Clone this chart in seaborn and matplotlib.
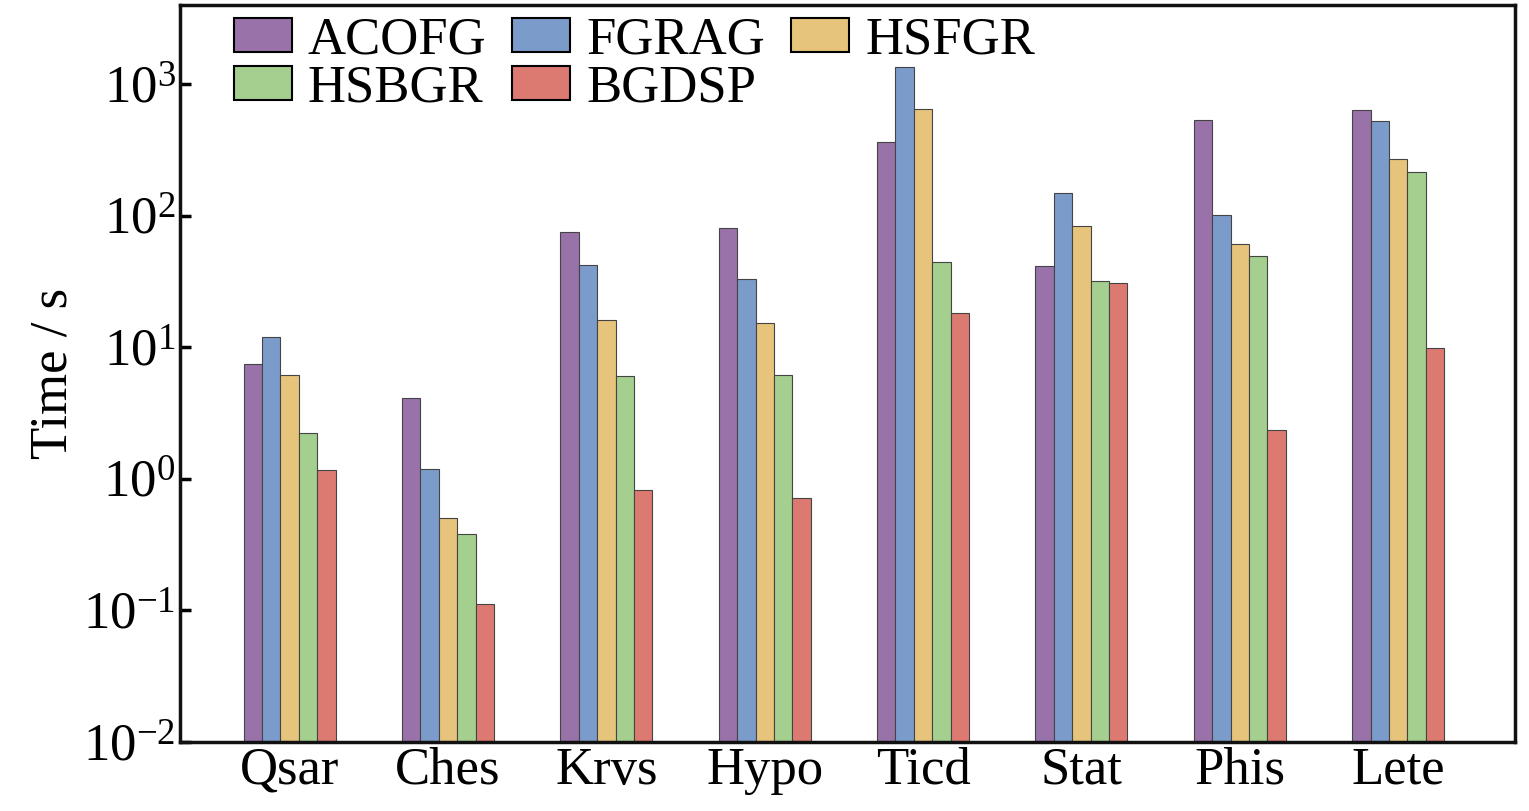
import matplotlib
matplotlib.use("Agg")
import matplotlib.pyplot as plt
import pandas as pd
import seaborn as sns

datasets = ["Qsar", "Ches", "Krvs", "Hypo", "Ticd", "Stat", "Phis", "Lete"]
methods = ["ACOFG", "FGRAG", "HSFGR", "HSBGR", "BGDSP"]
acofg = [7.4, 4.1, 75, 81, 365, 41.6, 530, 630]
fgrag = [12, 1.19, 42, 33, 1360, 150, 102, 520]
hsfgr = [6.2, 0.50, 16.2, 15.3, 650, 84, 61, 270]
hsbgr = [2.24, 0.38, 6.0, 6.2, 44.5, 32, 49, 215]
bgdsp = [1.17, 0.112, 0.82, 0.72, 18.3, 31, 2.36, 9.9]
colors = ["#9a72aa", "#7b9cca", "#e7c47b", "#a4cf8f", "#dc7a72"]

rows = []
for m, vals in zip(methods, [acofg, fgrag, hsfgr, hsbgr, bgdsp]):
    for d, v in zip(datasets, vals):
        rows.append({"dataset": d, "method": m, "time": v})
df = pd.DataFrame(rows)

sns.set_style("ticks")
plt.rcParams['font.family'] = ['Liberation Serif', 'DejaVu Serif']
plt.rcParams['mathtext.fontset'] = 'stix'
plt.rcParams['text.color'] = 'black'
plt.rcParams['axes.labelcolor'] = 'black'
plt.rcParams['xtick.color'] = 'black'
plt.rcParams['ytick.color'] = 'black'

fig = plt.figure(figsize=(15.29, 8.11), dpi=100)
ax = fig.add_axes([0.118, 0.085, 0.873, 0.909])
ax.set_yscale('log')
sns.barplot(data=df, x="dataset", y="time", hue="method", palette=colors,
            width=0.58, saturation=1, edgecolor="#444444", linewidth=0.8, ax=ax)
ax.set_ylim(1e-2, 4000)
ax.set_xlim(-0.69, 7.74)
ax.set_xlabel("")
ax.set_ylabel("Time / s", fontsize=38)
ax.tick_params(axis='both', direction='in', labelsize=38, length=8, width=2.5)
ax.tick_params(axis='y', which='minor', length=0)
for s in ax.spines.values():
    s.set_linewidth(2.5)
    s.set_color('#111111')
h, l = ax.get_legend_handles_labels()
order = [0, 3, 1, 4, 2]
leg = ax.legend([h[i] for i in order], [l[i] for i in order], ncol=3,
                loc='upper left', frameon=False, fontsize=38,
                handlelength=1.1, handleheight=0.6, columnspacing=0.5,
                handletextpad=0.3, labelspacing=0.0, borderaxespad=0.1,
                bbox_to_anchor=(0.02, 1.02))
for p in leg.get_patches():
    p.set_edgecolor('black')
    p.set_linewidth(1.5)
fig.savefig("out.png", dpi=100)
